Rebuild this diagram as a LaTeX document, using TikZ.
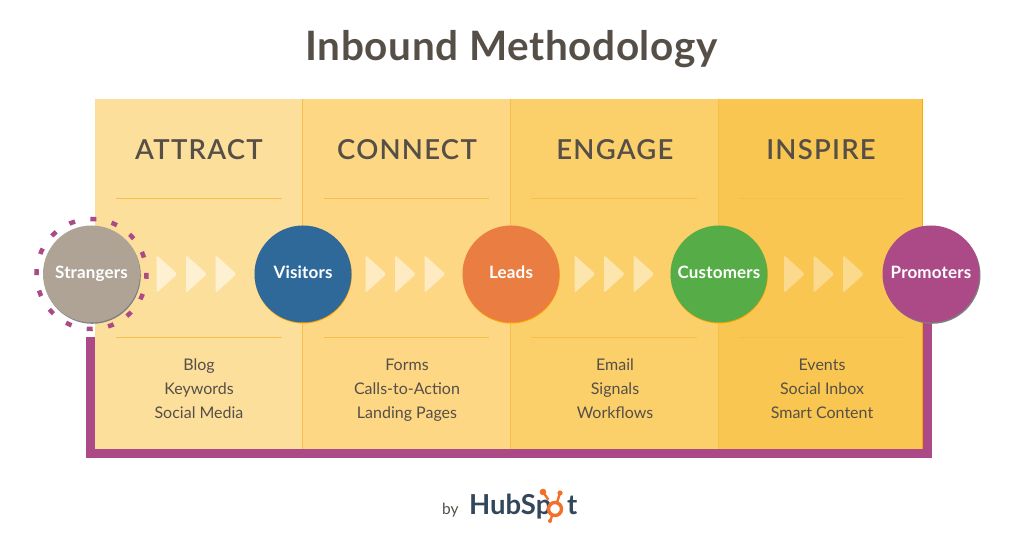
\documentclass[tikz,border=0pt]{standalone}
\usepackage{fontspec}
\usetikzlibrary{calc}
\setmainfont{Lato}
\newfontfamily\titlefont[LetterSpace=1.5]{Lato Bold}
\newfontfamily\headfont[LetterSpace=4.5]{Lato Semibold}
\newfontfamily\itemfont{Lato}
\newfontfamily\circfont[LetterSpace=1]{Lato Bold}
\newfontfamily\logofont{Lato Bold}
\definecolor{pa}{HTML}{FDDF9C}
\definecolor{pb}{HTML}{FDD783}
\definecolor{pc}{HTML}{FBD06B}
\definecolor{pd}{HTML}{F9C651}
\definecolor{edge}{HTML}{F7BE48}
\definecolor{ink}{HTML}{564F47}
\definecolor{plum}{HTML}{AC4A87}
\definecolor{hsdark}{HTML}{33475B}
\definecolor{hsorange}{HTML}{F2702A}
\definecolor{cstr}{HTML}{AFA396}
\definecolor{cvis}{HTML}{2E699A}
\definecolor{clea}{HTML}{EA7E42}
\definecolor{ccus}{HTML}{56AC47}
\tikzset{
  head/.style={text=ink,font=\headfont\fontsize{27.5}{30}\selectfont,anchor=base,inner sep=0},
  item/.style={text=ink,font=\itemfont\fontsize{16}{18}\selectfont,anchor=base,inner sep=0},
  stage/.style={circle,minimum size=97,inner sep=0,text=white,text height=12,text depth=2,font=\circfont\fontsize{17}{18}\selectfont},
  rule/.style={line width=0.7,draw=edge},
  chev/.style={rounded corners=2.5},
  loopband/.style={draw=plum,line width=9,line join=miter},
  ring/.style={circle,minimum size=110,inner sep=0,draw=plum,line width=4.5,dash pattern=on 6 off 15.6,dash phase=4.9},
}
\newcommand{\chevs}[2]{%
  \foreach \dx in {0,29.5,59}{%
    \fill[#2,chev] (#1+\dx,255) -- (#1+\dx+21,274) -- (#1+\dx,293) -- cycle;}}
\begin{document}
\begin{tikzpicture}[x=1pt,y=-1pt]
\useasboundingbox (0,0) rectangle (1021,545);
\fill[white] (0,0) rectangle (1021,545);
\node[anchor=base,inner sep=0,text=ink,font=\titlefont\fontsize{40.5}{46}\selectfont] (title) at (511.5,61) {Inbound Methodology};
% panels
\fill[pa] (95,99) rectangle (302,449);
\fill[pb] (302,99) rectangle (510,449);
\fill[pc] (510,99) rectangle (718,449);
\fill[pd] (718,99) rectangle (922,449);
\draw[edge,line width=0.8] (302,99) -- (302,449);
\draw[edge,line width=0.8] (510,99) -- (510,449);
\draw[edge,line width=0.8] (718,99) -- (718,449);
\draw[orange!70!yellow,line width=0.8] (922,99) -- (922,449) -- (718,449);
% heads
\node[head] (h1) at (199,159.5) {ATTRACT};
\node[head] (h2) at (407,159.5) {CONNECT};
\node[head] (h3) at (615,159.5) {ENGAGE};
\node[head] (h4) at (821,159.5) {INSPIRE};
% rules
\foreach \a/\b in {116/282,324/489,531/697,739/904}{
  \draw[rule] (\a,198) -- (\b,198);
  \draw[rule] (\a,337) -- (\b,337);
}
% items
\node[item] (i11) at (199,370.5) {Blog};
\node[item] (i12) at (199,394.5) {Keywords};
\node[item] (i13) at (199,418.5) {Social Media};
\node[item] (i21) at (407,370.5) {Forms};
\node[item] (i22) at (407,394.5) {Calls-to-Action};
\node[item] (i23) at (407,418.5) {Landing Pages};
\node[item] (i31) at (615,370.5) {Email};
\node[item] (i32) at (615,394.5) {Signals};
\node[item] (i33) at (615,418.5) {Workflows};
\node[item] (i41) at (822,370.5) {Events};
\node[item] (i42) at (822,394.5) {Social Inbox};
\node[item] (i43) at (822,418.5) {Smart Content};
% chevrons
\chevs{156.5}{white!55!pa}
\chevs{365.5}{white!50!pb}
\chevs{574.5}{white!45!pc}
\chevs{784}{white!35!pd}
% loop
\coordinate (ls) at (90.5,337);
\coordinate (lb) at (90.5,453.5);
\coordinate (rb) at (927,453.5);
\coordinate (rs) at (927,300);
\draw[loopband] (ls) -- (lb) -- (rb) -- (rs);
% shadows
\fill[black!50] (92.3,275.3) circle (48.5);
\fill[black!50] (932,275.3) circle (48.5);
\fill[orange!70!yellow] (303.3,275) circle (48.5);
\fill[orange!70!yellow] (511.3,275) circle (48.5);
\fill[orange!70!yellow] (719.3,275) circle (48.5);
% stages
\node[stage,fill=cstr] (strangers) at (91.5,274) {Strangers};
\node[stage,fill=cvis] (visitors) at (303,274) {Visitors};
\node[stage,fill=clea] (leads) at (511,274) {Leads};
\node[stage,fill=ccus] (customers) at (719,274) {Customers};
\node[stage,fill=plum] (promoters) at (931,274) {Promoters};
\node[ring] (halo) at (91.5,274) {};
% logo
\node[anchor=base west,inner sep=0,text=ink,font=\itemfont\fontsize{15.5}{18}\selectfont] (by) at (442,514) {by};
\node[anchor=base west,inner sep=0,text=hsdark,font=\logofont\fontsize{27.5}{30}\selectfont] (hs) at (469,514.5) {HubSp};
\node[anchor=base west,inner sep=0,text=hsdark,font=\logofont\fontsize{27.5}{30}\selectfont] (hst) at (567,514.5) {t};
\coordinate (sc) at (555,509);
\coordinate (s1) at (543,492);
\coordinate (s2) at (560,493);
\coordinate (s3) at (550,521);
\draw[hsorange,line width=2.4] (s1) -- ($(sc)!0.55!(s1)$);
\draw[hsorange,line width=2.4] (s2) -- ($(sc)!0.45!(s2)$);
\draw[hsorange,line width=2.4] (s3) -- ($(sc)!0.6!(s3)$);
\draw[hsorange,line width=3.4,fill=white] (sc) circle (6.5);
\fill[hsorange] (s1) circle (3.3);
\fill[hsorange] (s2) circle (2.6);
\fill[hsorange] (s3) circle (2);
\end{tikzpicture}
\end{document}
